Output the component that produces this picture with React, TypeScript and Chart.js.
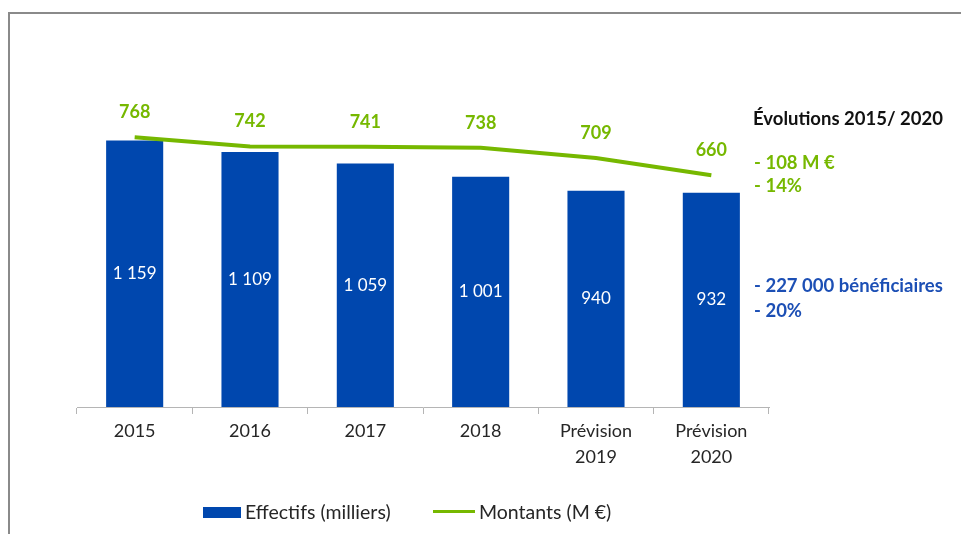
import React, { useEffect, useRef } from "react";
import { Chart, registerables } from "chart.js";

Chart.register(...registerables);

const categories: (string | string[])[] = ["2015", "2016", "2017", "2018", ["Prévision", "2019"], ["Prévision", "2020"]];
const effectifs = [1159, 1109, 1059, 1001, 940, 932];
const montants = [768, 742, 741, 738, 709, 660];
const seriesNames = ["Effectifs (milliers)", "Montants (M €)"];
const noteTitle = "Évolutions 2015/ 2020";
const noteGreen = ["- 108 M €", "- 14%"];
const noteBlue = ["- 227 000 bénéficiaires", "- 20%"];

const BLUE = "#0047AE";
const GREEN = "#76B800";
const TEXT_BLUE = "#1C4FB5";
const FONT = "Lato, 'Open Sans', sans-serif";

const fmt = (v: number) => {
  const s = String(v);
  return s.length > 3 ? s.slice(0, s.length - 3) + " " + s.slice(s.length - 3) : s;
};

const labelPlugin = {
  id: "valueLabels",
  afterDatasetsDraw(chart: any) {
    const ctx = chart.ctx;
    ctx.save();
    ctx.textAlign = "center";
    ctx.textBaseline = "middle";
    chart.data.datasets.forEach((ds: any, i: number) => {
      const meta = chart.getDatasetMeta(i);
      meta.data.forEach((el: any, j: number) => {
        const v = ds.data[j];
        if (ds.type === "bar") {
          ctx.fillStyle = "#ffffff";
          ctx.font = `17px ${FONT}`;
          const mid = (el.y + el.base) / 2;
          ctx.fillText(fmt(v), el.x, mid);
        } else {
          ctx.fillStyle = GREEN;
          ctx.font = `bold 18px ${FONT}`;
          ctx.fillText(fmt(v), el.x, el.y - 25);
        }
      });
    });
    ctx.restore();
  },
};

export default function App() {
  const ref = useRef<HTMLCanvasElement>(null);
  useEffect(() => {
    if (!ref.current) return;
    const chart = new Chart(ref.current, {
      type: "bar",
      data: {
        labels: categories as any,
        datasets: [
          {
            type: "line",
            label: seriesNames[1],
            data: montants,
            yAxisID: "y2",
            borderColor: GREEN,
            borderWidth: 4,
            pointRadius: 0,
            tension: 0,
            order: 0,
          } as any,
          {
            type: "bar",
            label: seriesNames[0],
            data: effectifs,
            yAxisID: "y",
            backgroundColor: BLUE,
            categoryPercentage: 1,
            barPercentage: 0.495,
            order: 1,
          },
        ],
      },
      options: {
        responsive: false,
        animation: false,
        layout: { padding: { left: 77, right: 192, top: 85, bottom: 67 } },
        plugins: { legend: { display: false }, tooltip: { enabled: false } },
        scales: {
          x: {
            offset: true,
            grid: { display: true, drawOnChartArea: false, offset: true, tickLength: 7, color: "#b5b5b5" },
            border: { display: true, color: "#b5b5b5", width: 1 },
            ticks: {
              color: "#262626",
              font: { family: FONT, size: 18, lineHeight: 1.4 },
              padding: 5,
              maxRotation: 0,
              autoSkip: false,
            },
            afterFit: (scale: any) => {
              scale.height = 60;
            },
          },
          y: { display: false, min: 0, max: 1400 },
          y2: { display: false, min: 0, max: 917, position: "right" },
        },
      },
      plugins: [labelPlugin],
    });
    return () => chart.destroy();
  }, []);

  const txt = (extra: React.CSSProperties): React.CSSProperties => ({
    position: "absolute",
    fontFamily: FONT,
    fontWeight: "bold",
    fontSize: 18.5,
    lineHeight: "24px",
    whiteSpace: "nowrap",
    ...extra,
  });

  return (
    <div style={{ position: "fixed", left: 0, top: 0, width: 961, height: 534, background: "#fff", overflow: "hidden" }}>
      <div style={{ position: "absolute", left: 8, top: 12, width: 1000, height: 600, borderTop: "2px solid #8a8a8a", borderLeft: "2px solid #8a8a8a" }} />
      <canvas ref={ref} width={961} height={534} style={{ position: "absolute", left: 0, top: 0 }} />
      <div style={txt({ left: 753, top: 106, color: "#111" })}>{noteTitle}</div>
      <div style={txt({ left: 754, top: 150, color: GREEN })}>{noteGreen[0]}</div>
      <div style={txt({ left: 754, top: 173, color: GREEN })}>{noteGreen[1]}</div>
      <div style={txt({ left: 754, top: 273, color: TEXT_BLUE })}>{noteBlue[0]}</div>
      <div style={txt({ left: 754, top: 298, color: TEXT_BLUE })}>{noteBlue[1]}</div>
      <div style={{ position: "absolute", left: 203, top: 507, width: 38, height: 11, background: BLUE }} />
      <div style={txt({ left: 245, top: 500, color: "#262626", fontWeight: "normal", fontSize: 19.5 })}>{seriesNames[0]}</div>
      <div style={{ position: "absolute", left: 433, top: 510, width: 42, height: 3, background: GREEN }} />
      <div style={txt({ left: 479, top: 500, color: "#262626", fontWeight: "normal", fontSize: 19.5 })}>{seriesNames[1]}</div>
    </div>
  );
}
